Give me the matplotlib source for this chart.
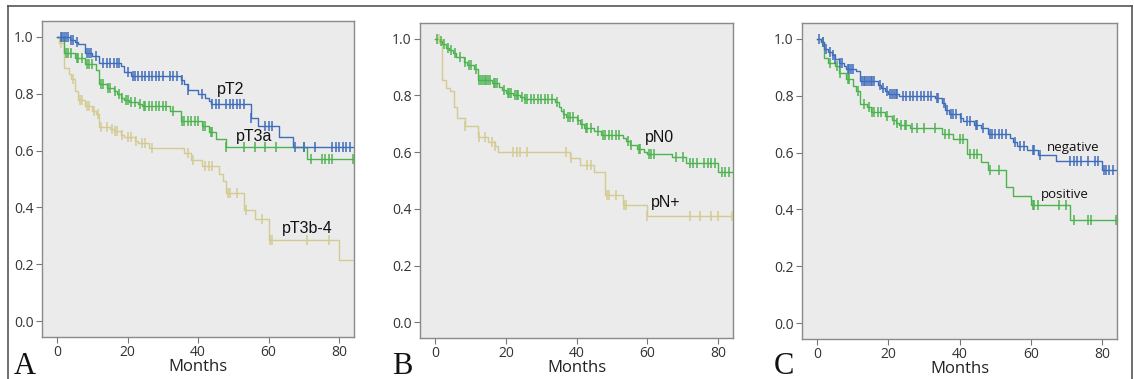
import numpy as np
import matplotlib
matplotlib.use("Agg")
import matplotlib.pyplot as plt
from matplotlib.lines import Line2D

# ---------------- data ----------------
# Panel A
a_pt2_t = [3.6, 5, 6, 8, 10, 12, 18, 19, 21, 35, 36, 37, 40, 42, 43, 43.5, 55, 57, 63, 67]
a_pt2_s = [0.99, 0.98, 0.973, 0.944, 0.932, 0.907, 0.897, 0.877, 0.861, 0.849, 0.835, 0.812,
           0.798, 0.786, 0.775, 0.763, 0.714, 0.686, 0.648, 0.614]
a_pt2_c = [1, 1.5, 2, 2.5, 3, 4, 4.5, 5.5, 8.5, 9, 9.5, 11, 13, 14, 15, 16, 17, 17.5, 20, 21.5,
           22, 23, 24, 25, 26, 27, 28, 29, 30, 32, 33, 34, 35.5, 37, 41, 44, 45, 46, 48, 49, 50,
           51, 52, 53, 55, 59, 60, 61, 67.5, 70, 73, 78, 79, 80, 81, 82, 83]

a_pt3a_t = [2, 5, 8, 11, 12, 14, 16, 17, 18, 19, 20.5, 23, 24, 32, 35, 41, 43, 45, 48, 71]
a_pt3a_s = [0.942, 0.924, 0.903, 0.884, 0.833, 0.821, 0.81, 0.80, 0.786, 0.779, 0.771, 0.763,
            0.756, 0.74, 0.704, 0.687, 0.666, 0.64, 0.613, 0.571]
a_pt3a_c = [2.5, 3, 4, 5.5, 6, 7, 8.5, 9, 10, 12.5, 13, 14.5, 15, 16.5, 17.5, 18.5, 19.5, 20, 21,
            22, 23.5, 24.5, 25, 26, 27, 28, 29, 30, 31, 33, 35.5, 36, 37, 38, 39, 40, 41.5, 42,
            43.5, 44, 48, 53, 56, 59, 62, 70, 72, 75, 76, 77, 78, 84]

a_pt3b_t = [0.5, 2, 3.5, 4, 5, 6, 8, 10, 11, 12, 15, 16, 18, 19, 22, 23, 26, 36, 38, 41, 46, 47,
            48, 53, 56, 60, 80]
a_pt3b_s = [0.977, 0.891, 0.87, 0.85, 0.81, 0.778, 0.756, 0.74, 0.728, 0.683, 0.675, 0.667,
            0.655, 0.646, 0.634, 0.625, 0.609, 0.59, 0.567, 0.547, 0.518, 0.494, 0.451, 0.391,
            0.359, 0.286, 0.216]
a_pt3b_c = [1, 4.5, 6.5, 7, 8.5, 9, 10.5, 11.5, 12.5, 14, 15.5, 16.5, 17, 18.5, 20, 21, 22.5, 24,
            25, 27, 37, 38.5, 42, 43, 44, 48.5, 49, 51, 53.5, 58, 60.5, 61, 71, 77]

# Panel B
b_pn0_t = [1, 2, 3, 4, 5, 6, 8, 9, 11, 12, 16, 18, 19, 20, 22, 24, 25, 34, 35, 35.5, 36, 37, 40,
           41, 42, 45, 47, 53, 54, 55, 57, 59, 60, 67, 71, 80]
b_pn0_s = [0.99, 0.98, 0.968, 0.96, 0.951, 0.936, 0.918, 0.906, 0.894, 0.854, 0.845, 0.83, 0.82,
           0.81, 0.80, 0.794, 0.788, 0.776, 0.76, 0.745, 0.733, 0.724, 0.713, 0.698, 0.686, 0.674,
           0.662, 0.651, 0.639, 0.625, 0.612, 0.60, 0.595, 0.584, 0.56, 0.531]
b_pn0_c = [0.5, 1.5, 2.5, 3.5, 4.5, 5.5, 7, 8.5, 9.5, 10, 11.5, 12.5, 13, 13.5, 14, 14.5, 15, 15.5,
           16.5, 17, 17.5, 19.5, 20.5, 21, 21.5, 22.5, 23, 23.5, 24.5, 25.5, 26, 27, 28, 29, 30,
           31, 32, 33, 34.5, 36.5, 37.5, 38, 39, 40.5, 41.5, 42.5, 43, 44, 46, 47.5, 48, 49, 50,
           51, 52, 54.5, 55.5, 57.5, 58, 60.5, 61, 62, 68, 70, 72, 73, 74, 76, 77, 78, 79, 81,
           82, 83]

b_pnp_t = [2, 3, 4.2, 5.2, 6.3, 8.3, 12, 15, 17, 17.7, 38, 41, 45, 48, 53, 60]
b_pnp_s = [0.854, 0.827, 0.815, 0.76, 0.72, 0.692, 0.653, 0.635, 0.621, 0.601, 0.58, 0.556,
           0.529, 0.45, 0.415, 0.374]
b_pnp_c = [1, 8.5, 12.5, 14, 16, 17, 22, 23, 24, 26, 37, 38.5, 43, 44, 48.5, 49, 51, 53.5, 54,
           60, 72, 75, 78, 80, 84]

# Panel C
c_neg_t = [1, 2, 3, 4, 5, 6, 7.5, 8, 11, 12, 17, 18, 19, 20, 23, 33, 35, 36, 37, 40, 41, 44, 46,
           48, 54, 55, 56, 59, 62, 67, 80]
c_neg_s = [0.99, 0.965, 0.953, 0.944, 0.929, 0.915, 0.903, 0.893, 0.888, 0.85, 0.838, 0.827,
           0.815, 0.806, 0.797, 0.79, 0.774, 0.75, 0.737, 0.721, 0.71, 0.698, 0.686, 0.666,
           0.651, 0.636, 0.622, 0.61, 0.593, 0.569, 0.54]
c_neg_c = [0.5, 1.5, 2.5, 3.5, 4.5, 5, 6.5, 7, 8.5, 9, 9.5, 10, 12.5, 13, 13.5, 14, 14.5, 15,
           15.5, 16, 17.5, 18.5, 19.5, 20.5, 21, 21.5, 22, 22.5, 24, 25, 26, 27, 28, 29, 30, 31,
           32, 33.5, 34, 35.5, 36.5, 37.5, 38, 39, 40.5, 42, 43, 44.5, 45, 46.5, 48.5, 49, 50,
           51, 52, 53, 55.5, 57, 58, 60.5, 61, 62.5, 71, 72, 73, 74, 76, 78, 79, 80.5, 81, 82, 83]

c_pos_t = [1, 2, 3, 5, 6, 8, 10, 11, 12, 14, 15, 19, 21, 22, 23, 26, 35, 38, 42, 46, 48, 53, 55,
           60, 71]
c_pos_s = [0.987, 0.932, 0.915, 0.903, 0.88, 0.858, 0.835, 0.815, 0.77, 0.759, 0.744, 0.73,
           0.715, 0.704, 0.698, 0.686, 0.666, 0.648, 0.596, 0.566, 0.54, 0.478, 0.446, 0.414,
           0.362]
c_pos_c = [1.5, 3.5, 5.5, 6.5, 8.5, 9, 11.5, 13, 14.5, 15.5, 16, 17, 18, 19.5, 21.5, 22.5, 23.5,
           24.5, 25, 26.5, 28, 30, 33, 36, 37, 40, 41, 43, 44, 45, 48.5, 51, 60.5, 61, 62, 68,
           70, 72, 76, 77, 84]

x_ticks = [0, 20, 40, 60, 80]
y_ticks = [0.0, 0.2, 0.4, 0.6, 0.8, 1.0]
x_label = "Months"
panel_letters = ["A", "B", "C"]

BLUE = "#3f6dbb"
GREEN = "#4db34f"
TAN = "#d3cb92"

# ---------------- figure ----------------
W, H = 1134, 379
fig = plt.figure(figsize=(W / 100, H / 100), dpi=100)
fig.patch.set_facecolor("white")


def px_axes(l, t, r, b):
    return fig.add_axes([l / W, 1 - b / H, (r - l) / W, (b - t) / H])


def km(ax, t, s, c, color, end=84):
    xs = np.concatenate([[0], t, [end]])
    ys = np.concatenate([[1.0], s, [s[-1]]])
    ax.step(xs, ys, where="post", color=color, lw=1.0, zorder=3)
    c = np.asarray(c, dtype=float)
    idx = np.searchsorted(np.asarray(t, dtype=float), c, side="right")
    cy = np.concatenate([[1.0], s])[idx]
    ax.plot(c, cy, ls="none", marker="|", ms=6.5, mew=1.1, color=color, zorder=4)


def style(ax):
    ax.set_facecolor("#ebebeb")
    ax.set_xlim(-4.3, 84.2)
    ax.set_ylim(-0.055, 1.055)
    ax.set_xticks(x_ticks)
    ax.set_yticks(y_ticks)
    ax.set_yticklabels([f"{v:.1f}" for v in y_ticks])
    for sp in ax.spines.values():
        sp.set_color("#8a8a8a")
        sp.set_linewidth(1.0)
    ax.tick_params(direction="out", length=4, width=0.8, color="#777777",
                   labelcolor="#333333", labelsize=10, pad=2)
    for lab in ax.get_xticklabels() + ax.get_yticklabels():
        lab.set_family("Open Sans")
    ax.set_xlabel(x_label, family="Open Sans", fontsize=12, color="#222222", labelpad=-1)


axA = px_axes(42, 21, 354, 337)
axB = px_axes(420, 23, 733, 338)
axC = px_axes(802, 23, 1117, 339)

lab_kw = dict(family="Liberation Sans", fontsize=11.5, ha="center", va="center", color="#111111")

km(axA, a_pt3b_t, a_pt3b_s, a_pt3b_c, TAN)
km(axA, a_pt3a_t, a_pt3a_s, a_pt3a_c, GREEN)
km(axA, a_pt2_t, a_pt2_s, a_pt2_c, BLUE)
axA.text(49.3, 0.815, "pT2", **lab_kw)
axA.text(55.9, 0.648, "pT3a", **lab_kw)
axA.text(71.0, 0.325, "pT3b-4", **lab_kw)

km(axB, b_pnp_t, b_pnp_s, b_pnp_c, TAN)
km(axB, b_pn0_t, b_pn0_s, b_pn0_c, GREEN)
axB.text(63.5, 0.65, "pN0", **lab_kw)
axB.text(65.1, 0.421, "pN+", **lab_kw)

km(axC, c_pos_t, c_pos_s, c_pos_c, GREEN)
km(axC, c_neg_t, c_neg_s, c_neg_c, BLUE)
axC.text(72.0, 0.618, "negative", family="Open Sans", fontsize=9.5, ha="center", va="center", color="#111111")
axC.text(69.5, 0.452, "positive", family="Open Sans", fontsize=9.5, ha="center", va="center", color="#111111")

for ax in (axA, axB, axC):
    style(ax)

# panel letters
for letter, xpx in zip(panel_letters, [14, 392, 774]):
    fig.text(xpx / W, 1 - 374 / H, letter, family="Liberation Serif", fontsize=22,
             ha="left", va="baseline", color="#111111")

# outer frame (top, left, right)
fc = "#555555"
fig.add_artist(Line2D([8 / W, 1132 / W], [1 - 6 / H, 1 - 6 / H], color=fc, lw=1.2))
fig.add_artist(Line2D([8 / W, 8 / W], [0, 1 - 6 / H], color=fc, lw=1.2))
fig.add_artist(Line2D([1132 / W, 1132 / W], [0, 1 - 6 / H], color=fc, lw=1.2))

fig.savefig("out.png", dpi=100)
